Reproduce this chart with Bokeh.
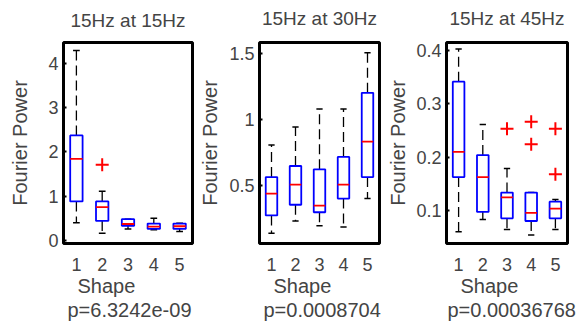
from bokeh.plotting import figure
from bokeh.layouts import row
from bokeh.models import Title, FixedTicker, Range1d, ColumnDataSource
from bokeh.embed import file_html
from bokeh.resources import INLINE

FONT = "Liberation Sans"

shapes = [1, 2, 3, 4, 5]
titles = ["15Hz at 15Hz", "15Hz at 30Hz", "15Hz at 45Hz"]
p_values = ["p=6.3242e-09", "p=0.0008704", "p=0.00036768"]

# Panel 1: 15Hz at 15Hz
p1_lo = [0.40, 0.16, 0.26, 0.24, 0.20]
p1_q1 = [0.88, 0.44, 0.33, 0.26, 0.26]
p1_med = [1.84, 0.75, 0.37, 0.31, 0.32]
p1_q3 = [2.37, 0.88, 0.48, 0.38, 0.38]
p1_hi = [4.29, 1.11, 0.48, 0.50, 0.39]
p1_out_x = [2]
p1_out_y = [1.71]
p1_ticks = [0, 1, 2, 3, 4]
p1_tick_labels = ["0", "1", "2", "3", "4"]

# Panel 2: 15Hz at 30Hz
p2_lo = [0.136, 0.23, 0.193, 0.185, 0.40]
p2_q1 = [0.272, 0.353, 0.296, 0.40, 0.563]
p2_med = [0.437, 0.506, 0.346, 0.506, 0.832]
p2_q3 = [0.563, 0.647, 0.622, 0.716, 1.202]
p2_hi = [0.807, 0.943, 1.079, 1.079, 1.506]
p2_out_x = []
p2_out_y = []
p2_ticks = [0.5, 1, 1.5]
p2_tick_labels = ["0.5", "1", "1.5"]

# Panel 3: 15Hz at 45Hz
p3_lo = [0.061, 0.084, 0.065, 0.055, 0.065]
p3_q1 = [0.163, 0.098, 0.086, 0.081, 0.086]
p3_med = [0.210, 0.163, 0.125, 0.096, 0.104]
p3_q3 = [0.341, 0.204, 0.134, 0.134, 0.117]
p3_hi = [0.402, 0.261, 0.179, 0.134, 0.121]
p3_out_x = [3, 4, 4, 5, 5]
p3_out_y = [0.253, 0.266, 0.224, 0.253, 0.168]
p3_ticks = [0.1, 0.2, 0.3, 0.4]
p3_tick_labels = ["0.1", "0.2", "0.3", "0.4"]

panels = [
    dict(lo=p1_lo, q1=p1_q1, med=p1_med, q3=p1_q3, hi=p1_hi, ox=p1_out_x, oy=p1_out_y,
         ticks=p1_ticks, labels=p1_tick_labels, yr=(-0.07, 4.47),
         width=196, left=63, right=4, top=40, bottom=77, ylab_standoff=14, pv_off=4, tpad=12),
    dict(lo=p2_lo, q1=p2_q1, med=p2_med, q3=p2_q3, hi=p2_hi, ox=p2_out_x, oy=p2_out_y,
         ticks=p2_ticks, labels=p2_tick_labels, yr=(0.059, 1.584),
         width=188, left=56, right=5, top=42, bottom=77, ylab_standoff=5, pv_off=4, tpad=14),
    dict(lo=p3_lo, q1=p3_q1, med=p3_med, q3=p3_q3, hi=p3_hi, ox=p3_out_x, oy=p3_out_y,
         ticks=p3_ticks, labels=p3_tick_labels, yr=(0.039, 0.414),
         width=193, left=57, right=10, top=42, bottom=81, ylab_standoff=4, pv_off=1, tpad=14),
]

figs = []
for i, cfg in enumerate(panels):
    p = figure(width=cfg["width"], height=324, output_backend="svg", title=None,
               toolbar_location=None, x_range=Range1d(0.5, 5.5),
               y_range=Range1d(*cfg["yr"]),
               min_border_left=cfg["left"], min_border_right=cfg["right"],
               min_border_top=cfg["top"], min_border_bottom=cfg["bottom"])
    p.add_layout(Title(text=titles[i], text_font=FONT, text_font_size="19px",
                       text_font_style="normal", align="center", standoff=0,
                       padding=(0, 0, 0, cfg["tpad"])), "above")
    p.grid.visible = False
    p.outline_line_color = "black"
    p.outline_line_width = 3
    p.outline_line_alpha = 1
    p.background_fill_color = "white"
    p.border_fill_color = "white"

    # axes
    xa = p.below[0]
    xa.ticker = FixedTicker(ticks=shapes)
    xa.major_tick_in = 0
    xa.major_tick_out = 0
    xa.minor_tick_line_color = None
    xa.axis_line_color = None
    xa.major_label_text_font = FONT
    xa.major_label_text_font_size = "18px"
    xa.major_label_standoff = 14

    ya = p.left[0]
    ya.ticker = FixedTicker(ticks=cfg["ticks"])
    ya.major_label_overrides = {t: l for t, l in zip(cfg["ticks"], cfg["labels"])}
    ya.major_tick_in = 3
    ya.major_tick_out = 0
    ya.major_tick_line_width = 2
    ya.minor_tick_line_color = None
    ya.axis_line_color = None
    ya.major_label_text_font = FONT
    ya.major_label_text_font_size = "18px"
    ya.major_label_standoff = 5
    ya.axis_label = "Fourier Power"
    ya.axis_label_text_font = FONT
    ya.axis_label_text_font_size = "20px"
    ya.axis_label_text_font_style = "normal"
    ya.axis_label_standoff = cfg["ylab_standoff"]

    p.add_layout(Title(text="Shape", text_font=FONT, text_font_size="20px",
                       text_font_style="normal", align="left", offset=14, standoff=-1), "below")
    p.add_layout(Title(text=p_values[i], text_font=FONT, text_font_size="20px",
                       text_font_style="normal", align="left", offset=cfg["pv_off"],
                       standoff=-11, padding=(0, 0, 6, 0)), "below")

    src = ColumnDataSource(dict(x=shapes, lo=cfg["lo"], q1=cfg["q1"], med=cfg["med"],
                                q3=cfg["q3"], hi=cfg["hi"],
                                xl=[s - 0.24 for s in shapes], xr=[s + 0.24 for s in shapes],
                                cl=[s - 0.13 for s in shapes], cr=[s + 0.13 for s in shapes]))
    # whiskers
    p.segment(x0="x", y0="q3", x1="x", y1="hi", source=src, line_color="black",
              line_width=1.3, line_dash="10 5")
    p.segment(x0="x", y0="q1", x1="x", y1="lo", source=src, line_color="black",
              line_width=1.3, line_dash="10 5")
    # caps
    p.segment(x0="cl", y0="hi", x1="cr", y1="hi", source=src, line_color="black", line_width=1.5)
    p.segment(x0="cl", y0="lo", x1="cr", y1="lo", source=src, line_color="black", line_width=1.5)
    # boxes
    p.quad(left="xl", right="xr", bottom="q1", top="q3", source=src, fill_color="white",
           line_color="#0000ff", line_width=1.8)
    # medians
    p.segment(x0="xl", y0="med", x1="xr", y1="med", source=src, line_color="#ff0000", line_width=1.8)
    # outliers
    if cfg["ox"]:
        p.scatter(cfg["ox"], cfg["oy"], marker="cross", size=13, line_color="#ff0000", line_width=2)
    figs.append(p)

layout = row(*figs, spacing=0)
open("out.html", "w").write(file_html(layout, INLINE))
